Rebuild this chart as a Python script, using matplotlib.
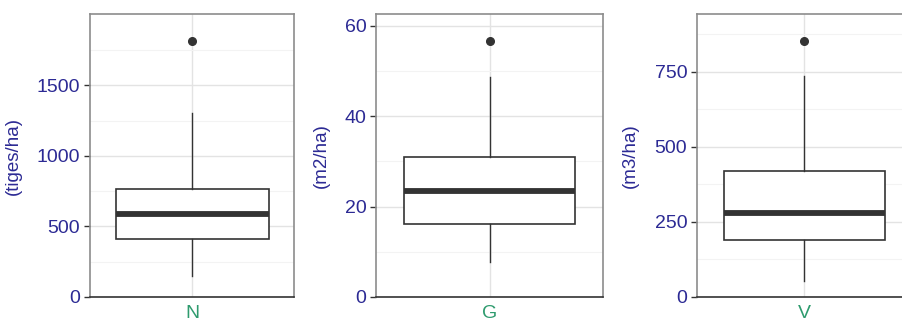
import matplotlib.pyplot as plt
from matplotlib.ticker import FixedLocator

# Box statistics (one box per panel)
categories = ["N", "G", "V"]
units = ["(tiges/ha)", "(m2/ha)", "(m3/ha)"]
whisker_low = [152, 7.8, 52]
q1 = [410, 16.2, 189]
medians = [588, 23.5, 278]
q3 = [768, 31.0, 420]
whisker_high = [1303, 48.7, 736]
outliers = [[1817], [56.6], [852]]

y_ticks = [[0, 500, 1000, 1500], [0, 20, 40, 60], [0, 250, 500, 750]]
y_minor = [[250, 750, 1250, 1750], [10, 30, 50], [125, 375, 625, 875]]
y_top = [2005, 62.6, 942]

plt.rcParams["font.family"] = ["Liberation Sans", "DejaVu Sans"]

tick_col = "#2c2a94"
xlab_col = "#2e9b6e"
dark = "#333333"

fig = plt.figure(figsize=(9.02, 3.23), dpi=100)

# panel placement in figure fractions (third panel runs past the right edge)
positions = [(0.0998, 0.2262, -0.333), (0.4169, 0.2517, -0.203), (0.7727, 0.2384, -0.27)]

for i, (left, width, lab_x) in enumerate(positions):
    ax = fig.add_axes([left, 0.0805, width, 0.876])
    stats = [{
        "med": medians[i], "q1": q1[i], "q3": q3[i],
        "whislo": whisker_low[i], "whishi": whisker_high[i],
        "fliers": outliers[i], "label": categories[i],
    }]
    ax.bxp(stats, positions=[1], widths=0.9, showcaps=False, patch_artist=True,
           boxprops=dict(facecolor="white", edgecolor=dark, linewidth=1.2),
           medianprops=dict(color=dark, linewidth=4.2, solid_capstyle="butt"),
           whiskerprops=dict(color=dark, linewidth=1.0),
           flierprops=dict(marker="o", markerfacecolor=dark, markeredgecolor=dark,
                           markersize=5.5),
           zorder=3)

    ax.set_xlim(0.4, 1.6)
    ax.set_ylim(0, y_top[i])
    ax.set_yticks(y_ticks[i])
    ax.yaxis.set_minor_locator(FixedLocator(y_minor[i]))
    ax.set_xticks([1])
    ax.set_xticklabels([categories[i]])

    ax.grid(True, which="major", color="#e3e3e3", linewidth=1.0, zorder=0)
    ax.grid(True, which="minor", axis="y", color="#f3f3f3", linewidth=0.8, zorder=0)
    ax.set_axisbelow(True)

    ax.tick_params(axis="y", which="major", length=4, width=1.0, color=dark,
                   labelsize=14, labelcolor=tick_col, pad=3)
    ax.tick_params(axis="y", which="minor", length=0)
    ax.tick_params(axis="x", length=0, labelsize=14, labelcolor=xlab_col, pad=6)

    for side in ["top", "right", "left"]:
        ax.spines[side].set_color("#8c8c8c")
        ax.spines[side].set_linewidth(1.2)
    ax.spines["bottom"].set_color(dark)
    ax.spines["bottom"].set_linewidth(1.2)

    ax.set_ylabel(units[i], fontsize=13.5, color=tick_col)
    ax.yaxis.set_label_coords(lab_x, 0.5)

fig.savefig("out.png", dpi=100)
